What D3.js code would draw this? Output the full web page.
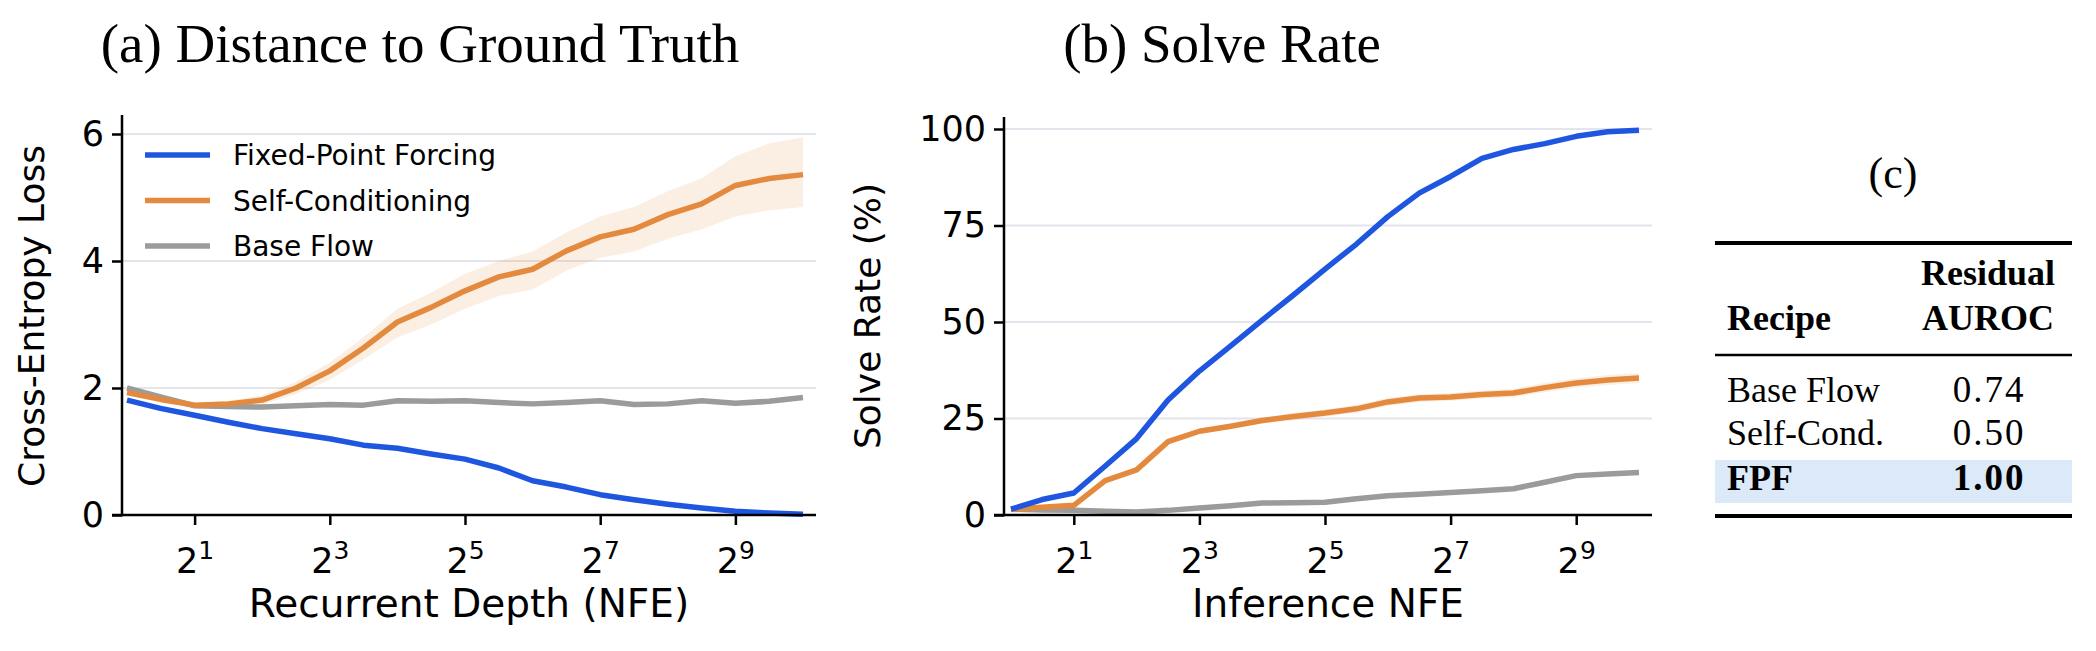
<!DOCTYPE html>
<html>
<head>
<meta charset="utf-8">
<script src="https://cdn.jsdelivr.net/npm/d3@7"></script>
<style>
  body { margin: 0; background: #fff; }
  .tick text { font-family: "DejaVu Sans", sans-serif; font-size: 35px; }
</style>
</head>
<body>
<div id="chart"></div>
<script>
// Shared x grid (NFE), half-octave steps
const nfe = [1, 1.41, 2, 2.83, 4, 5.66, 8, 11.3, 16, 22.6, 32, 45.3, 64, 90.5, 128, 181, 256, 362, 512, 724, 1024];

// (a) Cross-entropy loss
const lossFPF = [1.81, 1.68, 1.57, 1.46, 1.36, 1.28, 1.20, 1.10, 1.05, 0.96, 0.88, 0.74, 0.54, 0.44, 0.32, 0.24, 0.17, 0.11, 0.06, 0.03, 0.01];
const lossSC = [1.93, 1.82, 1.73, 1.75, 1.81, 2.00, 2.27, 2.63, 3.04, 3.27, 3.53, 3.75, 3.87, 4.16, 4.38, 4.50, 4.73, 4.90, 5.19, 5.30, 5.36];
const lossSCLo = [1.90, 1.79, 1.70, 1.70, 1.74, 1.90, 2.13, 2.45, 2.80, 3.00, 3.25, 3.45, 3.55, 3.85, 4.05, 4.15, 4.35, 4.50, 4.70, 4.80, 4.85];
const lossSCHi = [1.96, 1.85, 1.76, 1.80, 1.88, 2.10, 2.40, 2.80, 3.25, 3.50, 3.80, 4.00, 4.15, 4.45, 4.70, 4.85, 5.10, 5.30, 5.65, 5.85, 5.95];
const lossBase = [2.00, 1.86, 1.72, 1.71, 1.70, 1.72, 1.74, 1.73, 1.80, 1.79, 1.80, 1.77, 1.75, 1.77, 1.80, 1.74, 1.75, 1.80, 1.76, 1.79, 1.85];

// (b) Solve rate (%)
const solveFPF = [1.5, 4.0, 5.7, 12.7, 19.8, 29.8, 37.3, 43.8, 50.5, 57.0, 63.7, 70.2, 77.3, 83.4, 87.7, 92.4, 94.7, 96.2, 98.1, 99.3, 99.7];
const solveSC = [1.5, 2.0, 2.5, 8.9, 11.7, 19.0, 21.7, 23.0, 24.5, 25.5, 26.4, 27.5, 29.3, 30.3, 30.6, 31.2, 31.6, 33.0, 34.2, 35.0, 35.5];
const solveSCLo = [1.3, 1.8, 2.2, 8.3, 11.0, 18.2, 21.0, 22.3, 23.7, 24.6, 25.5, 26.5, 28.3, 29.3, 29.6, 30.2, 30.5, 31.8, 33.0, 33.7, 34.2];
const solveSCHi = [1.7, 2.2, 2.8, 9.5, 12.4, 19.8, 22.4, 23.7, 25.3, 26.4, 27.3, 28.5, 30.3, 31.3, 31.6, 32.2, 32.7, 34.2, 35.4, 36.3, 36.8];
const solveBase = [1.5, 1.3, 1.2, 1.0, 0.8, 1.2, 1.8, 2.4, 3.1, 3.2, 3.3, 4.2, 5.0, 5.4, 5.8, 6.3, 6.8, 8.5, 10.2, 10.6, 11.0];

const xTicks = [2, 8, 32, 128, 512];
const lossTicks = [0, 2, 4, 6];
const solveTicks = [0, 25, 50, 75, 100];

const seriesNames = ["Fixed-Point Forcing", "Self-Conditioning", "Base Flow"];
const colors = ["#1f56e0", "#e48a3e", "#9b9b9b"];

// (c) table
const tableRecipes = ["Base Flow", "Self-Cond.", "FPF"];
const tableAuroc = ["0.74", "0.50", "1.00"];

const W = 2096, H = 651;
const svg = d3.select("#chart").append("svg").attr("width", W).attr("height", H);

const sans = "'DejaVu Sans', sans-serif";
const serif = "'Liberation Serif', 'DejaVu Serif', serif";

function panel(opt) {
  const x = d3.scaleLog().base(2).domain([1, 1024]).range([opt.x0, opt.x1]);
  const y = d3.scaleLinear().domain(opt.yDomain).range([515, opt.yTopPix]);
  const g = svg.append("g");

  // grid
  g.selectAll(".grid").data(opt.yTicks).enter().append("line")
    .attr("x1", opt.left).attr("x2", opt.right)
    .attr("y1", d => y(d)).attr("y2", d => y(d))
    .attr("stroke", "#e4e4ec").attr("stroke-width", 2);

  const line = d3.line().x((d, i) => x(nfe[i])).y(d => y(d));
  const area = d3.area().x((d, i) => x(nfe[i])).y0((d, i) => y(opt.lo[i])).y1((d, i) => y(opt.hi[i]));
  g.append("path").datum(opt.hi).attr("d", area).attr("fill", colors[1]).attr("opacity", 0.15);
  [opt.base, opt.sc, opt.fpf].forEach((s, k) => {
    g.append("path").datum(s).attr("d", line).attr("fill", "none")
      .attr("stroke", [colors[2], colors[1], colors[0]][k]).attr("stroke-width", 5.5)
      .attr("stroke-linejoin", "round");
  });

  // axes
  const yAxis = g.append("g").attr("transform", `translate(${opt.left},0)`)
    .call(d3.axisLeft(y).tickValues(opt.yTicks).tickSize(10).tickPadding(8).tickFormat(d3.format("d")));
  const xAxis = g.append("g").attr("transform", `translate(0,515)`)
    .call(d3.axisBottom(x).tickValues(xTicks).tickSize(10).tickPadding(10).tickFormat(""));
  [yAxis, xAxis].forEach(a => {
    a.selectAll("line").attr("stroke-width", 2.5);
    a.select(".domain").attr("stroke-width", 2.5);
  });
  yAxis.select(".domain").attr("d", `M-10,515H0V${opt.spineTop}`);
  xAxis.select(".domain").attr("d", `M${opt.left},0H${opt.right}`);
  xAxis.selectAll(".tick").append("text").attr("y", 58).attr("fill", "#000")
    .attr("text-anchor", "middle")
    .each(function (d) {
      const t = d3.select(this);
      t.append("tspan").text("2");
      t.append("tspan").attr("dy", -14).attr("font-size", "25px").text(Math.log2(d));
    });

  g.append("text").attr("x", (opt.left + opt.right) / 2).attr("y", 617)
    .attr("text-anchor", "middle").attr("font-family", sans).attr("font-size", 39)
    .text(opt.xlabel);
  g.append("text").attr("transform", `translate(${opt.ylabX},316) rotate(-90)`)
    .attr("text-anchor", "middle").attr("font-family", sans).attr("font-size", 36).text(opt.ylabel);
  g.append("text").attr("x", opt.titleX).attr("y", 62).attr("text-anchor", "middle")
    .attr("font-family", serif).attr("font-size", 55).text(opt.title);
  return g;
}

const ga = panel({
  x0: 127, x1: 803, left: 122, right: 816, spineTop: 115,
  yDomain: [0, 6], yTopPix: 134, yTicks: lossTicks,
  fpf: lossFPF, sc: lossSC, lo: lossSCLo, hi: lossSCHi, base: lossBase,
  xlabel: "Recurrent Depth (NFE)", ylabel: "Cross-Entropy Loss", ylabX: 44,
  title: "(a) Distance to Ground Truth", titleX: 420
});

panel({
  x0: 1011, x1: 1639, left: 1004, right: 1652, spineTop: 117,
  yDomain: [0, 100], yTopPix: 129, yTicks: solveTicks,
  fpf: solveFPF, sc: solveSC, lo: solveSCLo, hi: solveSCHi, base: solveBase,
  xlabel: "Inference NFE", ylabel: "Solve Rate (%)", ylabX: 880,
  title: "(b) Solve Rate", titleX: 1222
});

// legend in panel (a)
const leg = ga.append("g");
seriesNames.forEach((n, i) => {
  const yy = 155 + i * 45.5;
  leg.append("line").attr("x1", 145).attr("x2", 210).attr("y1", yy).attr("y2", yy)
    .attr("stroke", colors[i]).attr("stroke-width", 5.5);
  leg.append("text").attr("x", 233).attr("y", yy + 10).attr("font-family", sans)
    .attr("font-size", 28).text(n);
});

// (c) table
const tg = svg.append("g").attr("font-family", serif);
tg.append("text").attr("x", 1893).attr("y", 188).attr("text-anchor", "middle").attr("font-size", 44).text("(c)");
tg.append("rect").attr("x", 1715).attr("y", 460).attr("width", 357).attr("height", 43).attr("fill", "#dbe9f8");
[[243, 4], [355, 2.5], [516, 4]].forEach(([yy, w]) => {
  tg.append("line").attr("x1", 1715).attr("x2", 2072).attr("y1", yy).attr("y2", yy)
    .attr("stroke", "#000").attr("stroke-width", w);
});
tg.append("text").attr("x", 1727).attr("y", 330).attr("font-size", 36).attr("font-weight", "bold").text("Recipe");
tg.append("text").attr("x", 1988).attr("y", 285).attr("text-anchor", "middle").attr("font-size", 36).attr("font-weight", "bold").text("Residual");
tg.append("text").attr("x", 1988).attr("y", 330).attr("text-anchor", "middle").attr("font-size", 36).attr("font-weight", "bold").text("AUROC");
tableRecipes.forEach((r, i) => {
  const yy = [402, 445, 490][i];
  const bold = i === 2 ? "bold" : "normal";
  tg.append("text").attr("x", 1727).attr("y", yy).attr("font-size", 36).attr("font-weight", bold).text(r);
  tg.append("text").attr("x", 1989).attr("y", yy).attr("text-anchor", "middle").attr("font-size", 37)
    .attr("font-weight", bold).attr("letter-spacing", 2).text(tableAuroc[i]);
});
</script>
</body>
</html>
